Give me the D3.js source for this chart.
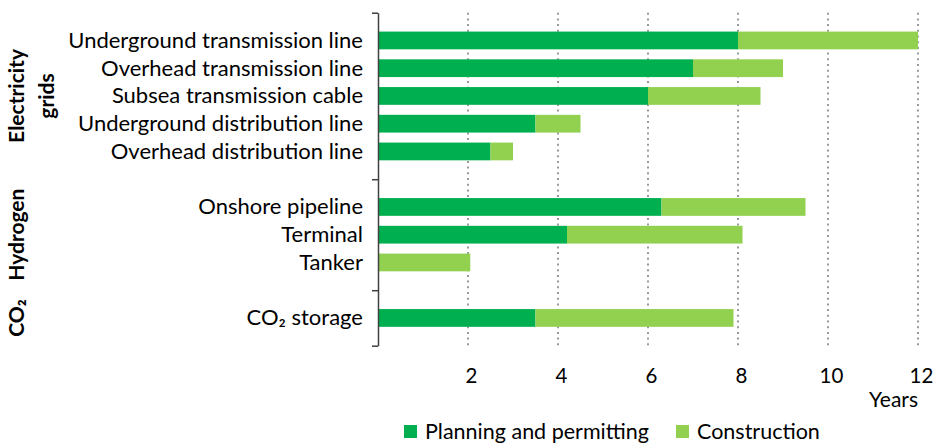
<!DOCTYPE html>
<html>
<head>
<meta charset="utf-8">
<script src="https://cdn.jsdelivr.net/npm/d3@7/dist/d3.min.js"></script>
<style>
  html, body { margin: 0; padding: 0; background: #fff; }
  svg { display: block; font-family: Lato, "Open Sans", sans-serif; }
</style>
</head>
<body>
<svg id="chart" width="938" height="445"></svg>
<script>
// ---------- data ----------
const categories = [
  "Underground transmission line",
  "Overhead transmission line",
  "Subsea transmission cable",
  "Underground distribution line",
  "Overhead distribution line",
  "Onshore pipeline",
  "Terminal",
  "Tanker",
  "CO\u2082 storage"
];
const categoryGroup = [0, 0, 0, 0, 0, 1, 1, 1, 2];
const groupLabels = [["Electricity", "grids"], ["Hydrogen"], ["CO\u2082"]];
const planning =     [8, 7, 6,   3.5, 2.5, 6.3, 4.2, 0,    3.5];
const construction = [4, 2, 2.5, 1,   0.5, 3.2, 3.9, 2.05, 4.4];
const seriesNames = ["Planning and permitting", "Construction"];
const xTicks = [2, 4, 6, 8, 10, 12];
const xAxisTitle = "Years";

// ---------- layout ----------
const colors = ["#00B050", "#92D050"];
const svg = d3.select("#chart");
const x0 = 378, x1 = 918;
const yTop = 12.7, yBottom = 345.7;

const x = d3.scaleLinear().domain([0, 12]).range([x0, x1]);

// slot list: separators at group boundaries, categories in between
const slots = [];
const boundaries = [];
slots.push("_b0"); boundaries.push("_b0");
categories.forEach((c, i) => {
  if (i > 0 && categoryGroup[i] !== categoryGroup[i - 1]) {
    const k = "_b" + categoryGroup[i];
    slots.push(k); boundaries.push(k);
  }
  slots.push(c);
});
slots.push("_end"); boundaries.push("_end");

const y = d3.scalePoint().domain(slots).range([yTop, yBottom]);
const barH = y.step() * 0.64;

// gridlines
svg.append("g")
  .selectAll("line")
  .data(xTicks)
  .join("line")
  .attr("x1", d => x(d)).attr("x2", d => x(d))
  .attr("y1", yTop).attr("y2", yBottom)
  .attr("stroke", "#9a9a9a")
  .attr("stroke-width", 2)
  .attr("stroke-dasharray", "2 3.7");

// bars
const rows = categories.map((c, i) => ({ c, p: planning[i], k: construction[i] }));
const barG = svg.append("g");
barG.selectAll("rect.p")
  .data(rows.filter(d => d.p > 0))
  .join("rect")
  .attr("class", "p")
  .attr("x", d => x(0))
  .attr("y", d => y(d.c) - barH / 2)
  .attr("width", d => x(d.p) - x(0))
  .attr("height", barH)
  .attr("fill", colors[0]);
barG.selectAll("rect.k")
  .data(rows)
  .join("rect")
  .attr("class", "k")
  .attr("x", d => x(d.p))
  .attr("y", d => y(d.c) - barH / 2)
  .attr("width", d => x(d.p + d.k) - x(d.p))
  .attr("height", barH)
  .attr("fill", colors[1]);

// left axis (group separators)
const leftAxis = svg.append("g")
  .attr("transform", `translate(${x0},0)`)
  .call(d3.axisLeft(y).tickValues(boundaries).tickFormat("").tickSize(6).tickSizeOuter(0));
leftAxis.select(".domain").attr("stroke", "#404040").attr("stroke-width", 1.5);
leftAxis.selectAll(".tick line").attr("stroke", "#404040").attr("stroke-width", 1.5);

// category labels
const catAxis = svg.append("g")
  .attr("transform", `translate(${x0},0)`)
  .call(d3.axisLeft(y).tickValues(categories).tickSize(0).tickPadding(15));
catAxis.select(".domain").remove();
catAxis.selectAll("text")
  .attr("font-family", "Lato, sans-serif")
  .attr("font-size", 22)
  .attr("fill", "#000");

// group labels (rotated)
const groupBounds = [];
for (let g = 0; g < groupLabels.length; g++) {
  groupBounds.push([y(boundaries[g]), y(boundaries[g + 1])]);
}
groupLabels.forEach((lines, g) => {
  const cy = (groupBounds[g][0] + groupBounds[g][1]) / 2;
  const t = svg.append("text")
    .attr("transform", `translate(0,${cy}) rotate(-90)`)
    .attr("text-anchor", "middle")
    .attr("font-family", "Lato, sans-serif")
    .attr("font-weight", "bold")
    .attr("font-size", 21)
    .attr("fill", "#000");
  lines.forEach((ln, j) => {
    t.append("tspan").attr("x", 0).attr("y", 24 + j * 30).text(ln);
  });
});

// bottom axis labels
const bAxis = svg.append("g")
  .attr("transform", `translate(0,${yBottom})`)
  .call(d3.axisBottom(x).tickValues(xTicks).tickSize(0));
bAxis.select(".domain").remove();
bAxis.selectAll("text")
  .attr("y", 37.5).attr("dy", 0).attr("dx", 3)
  .attr("font-family", "Lato, sans-serif")
  .attr("font-size", 20.5)
  .attr("fill", "#000");

svg.append("text")
  .attr("x", x1).attr("y", 406.5)
  .attr("text-anchor", "end")
  .attr("font-size", 21)
  .text(xAxisTitle);

// legend
const legendX = [404, 676];
const lg = svg.append("g");
seriesNames.forEach((s, i) => {
  lg.append("rect")
    .attr("x", legendX[i]).attr("y", 425)
    .attr("width", 13).attr("height", 13)
    .attr("fill", colors[i]);
  lg.append("text")
    .attr("x", legendX[i] + 21).attr("y", 439)
    .attr("font-size", 21.5)
    .text(s);
});
</script>
</body>
</html>
